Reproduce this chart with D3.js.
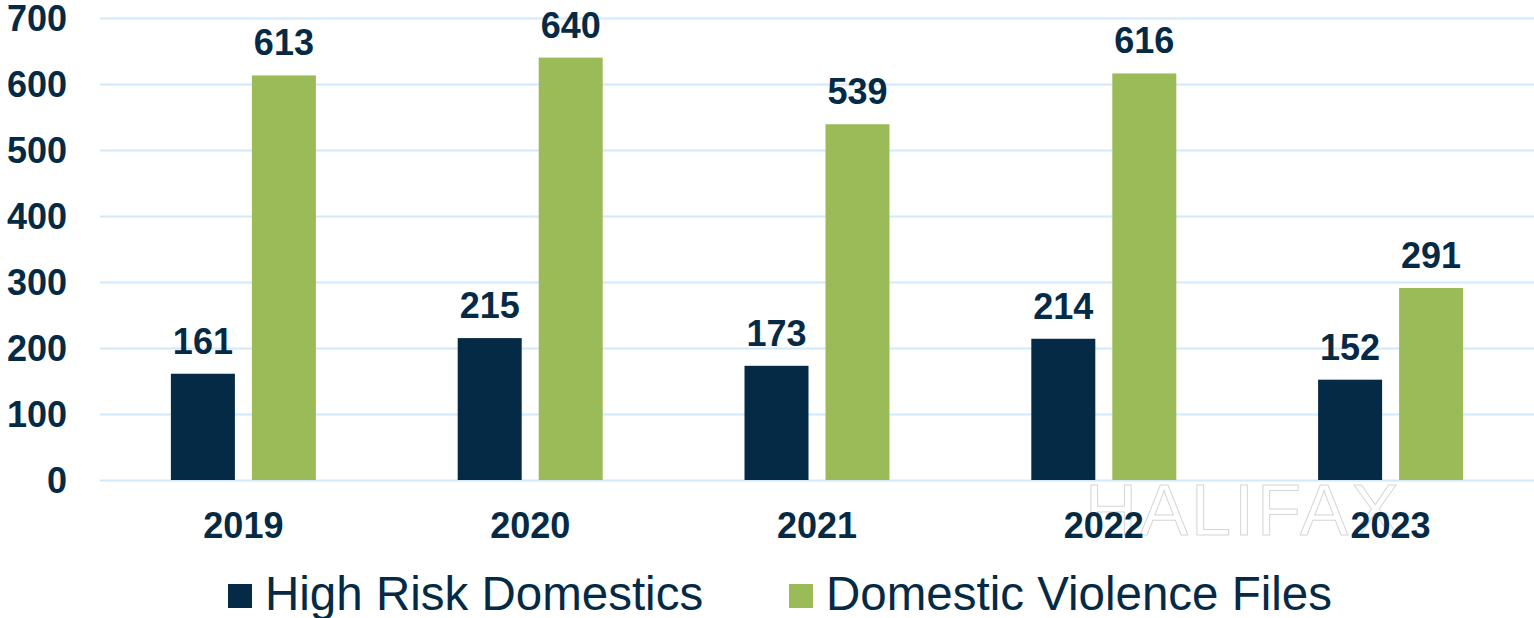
<!DOCTYPE html>
<html><head><meta charset="utf-8">
<script src="https://cdn.jsdelivr.net/npm/d3@7/dist/d3.min.js"></script>
<style>
html,body{margin:0;padding:0;background:#fff;}
svg{display:block;font-family:"Liberation Sans",Arial,sans-serif;}
</style></head>
<body>
<svg id="chart" width="1534" height="618"></svg>
<script>
const categories = ["2019","2020","2021","2022","2023"];
const seriesNames = ["High Risk Domestics","Domestic Violence Files"];
const highRisk = [161,215,173,214,152];
const dvFiles = [613,640,539,616,291];
const yTicks = [0,100,200,300,400,500,600,700];

(function(){
const navy = "#052a45", green = "#9bbb59", grid = "#d2e9fb", textCol = "#052a45";
const svg = d3.select("#chart");
const pLeft = 100, pRight = 1534, pTop = 18, pBottom = 480;

const x0 = d3.scaleBand().domain(categories).range([pLeft,pRight]).paddingInner(0).paddingOuter(0);
const bw = x0.bandwidth();
const x1 = d3.scaleBand().domain(seriesNames).range([bw/2-72.5, bw/2+72.5]).paddingInner(0.2099).paddingOuter(0);
const y = d3.scaleLinear().domain([0,700]).range([pBottom,pTop]);
const color = d3.scaleOrdinal().domain(seriesNames).range([navy,green]);

// watermark
const defs = svg.append("defs");
defs.append("clipPath").attr("id","wm").append("rect").attr("x",0).attr("y",482).attr("width",1534).attr("height",136);
svg.append("text").attr("clip-path","url(#wm)")
  .attr("x",1085).attr("y",535).attr("font-size",72).attr("letter-spacing",3)
  .attr("fill","#fff").attr("stroke","#d6d6d6").attr("stroke-width",1)
  .style("font-family","'Liberation Sans',Arial,sans-serif")
  .text("HALIFAX");

// gridlines
const yAxis = d3.axisLeft(y).tickValues(yTicks).tickSize(-(pRight-pLeft)).tickPadding(33);
const gy = svg.append("g").attr("transform",`translate(${pLeft},0)`).call(yAxis);
gy.select(".domain").remove();
gy.selectAll(".tick line").attr("stroke",grid).attr("stroke-width",2);
gy.selectAll(".tick text").attr("fill",textCol).attr("font-size",36).attr("font-weight","bold")
  .attr("dy","0.35em").style("font-family","'Liberation Sans',Arial,sans-serif");

const data = categories.map((c,i)=>({cat:c, vals:[{s:seriesNames[0],v:highRisk[i]},{s:seriesNames[1],v:dvFiles[i]}]}));

const groups = svg.append("g").selectAll("g").data(data).join("g")
  .attr("transform",d=>`translate(${x0(d.cat)},0)`);
groups.selectAll("rect").data(d=>d.vals).join("rect")
  .attr("x",d=>x1(d.s)).attr("width",x1.bandwidth())
  .attr("y",d=>y(d.v)).attr("height",d=>y(0)-y(d.v))
  .attr("fill",d=>color(d.s));
groups.selectAll("text.val").data(d=>d.vals).join("text").attr("class","val")
  .attr("x",d=>x1(d.s)+x1.bandwidth()/2).attr("y",d=>y(d.v)-20)
  .attr("text-anchor","middle").attr("font-size",36).attr("font-weight","bold").attr("fill",textCol)
  .text(d=>d.v);

// x axis labels
const xAxis = d3.axisBottom(x0).tickSize(0).tickPadding(0);
const gx = svg.append("g").attr("transform",`translate(0,${pBottom})`).call(xAxis);
gx.select(".domain").remove();
gx.selectAll(".tick text").attr("y",58).attr("dy",0).attr("fill",textCol).attr("font-size",36)
  .attr("font-weight","bold").style("font-family","'Liberation Sans',Arial,sans-serif");

// legend
const legendX = [228,789];
const lg = svg.append("g").selectAll("g").data(seriesNames).join("g")
  .attr("transform",(d,i)=>`translate(${legendX[i]},0)`);
lg.append("rect").attr("x",0).attr("y",584).attr("width",24).attr("height",24).attr("fill",d=>color(d));
lg.append("text").attr("x",37).attr("y",610).attr("font-size",47.5).attr("fill",textCol).text(d=>d);
})();
</script>
</body></html>
